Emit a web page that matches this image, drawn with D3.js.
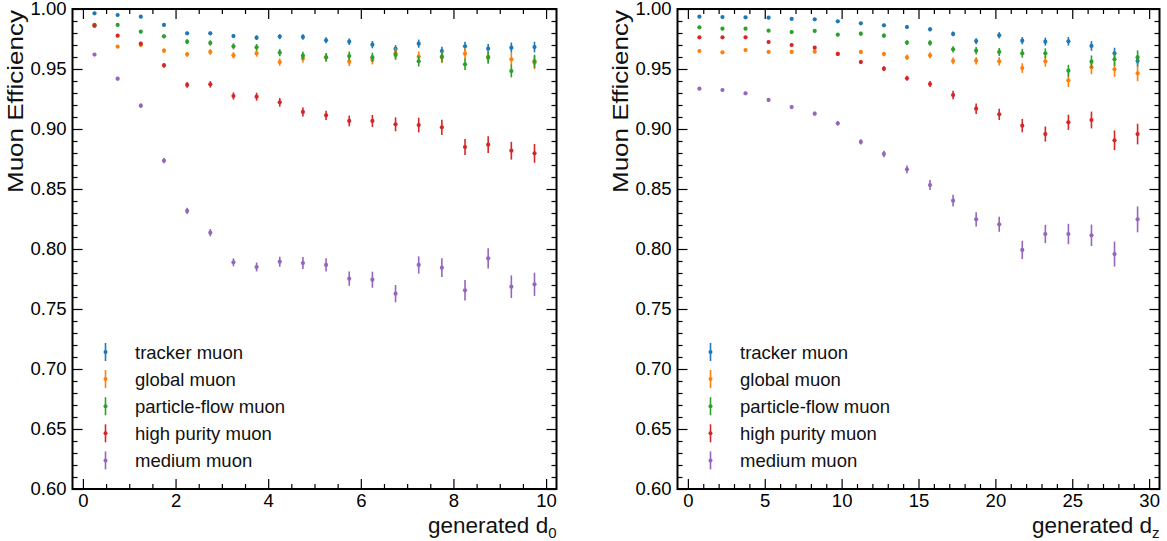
<!DOCTYPE html>
<html><head><meta charset="utf-8">
<script src="https://cdn.jsdelivr.net/npm/d3@7/dist/d3.min.js"></script>
<style>body{margin:0;background:#fff}svg{display:block;font-family:"Liberation Sans",Arial,sans-serif}</style>
</head><body><svg id="c" width="1167" height="541"></svg>
<script>
// ---------- data ----------
const seriesNames = ["tracker muon","global muon","particle-flow muon","high purity muon","medium muon"];
const seriesColors = ["#1f77b4","#ff7f0e","#2ca02c","#d62728","#9467bd"];

const d0Centers = [0.25,0.75,1.25,1.75,2.25,2.75,3.25,3.75,4.25,4.75,5.25,5.75,6.25,6.75,7.25,7.75,8.25,8.75,9.25,9.75];
const d0Tracker = [0.9964,0.995,0.9936,0.9867,0.9797,0.9797,0.9775,0.9761,0.977,0.9767,0.9739,0.9728,0.9703,0.9667,0.9711,0.965,0.9689,0.9669,0.9678,0.9683];
const d0Global  = [0.986,0.9686,0.970,0.9653,0.9622,0.9642,0.9614,0.9631,0.9558,0.9588,0.9597,0.9561,0.9578,0.9631,0.9603,0.9597,0.9628,0.9603,0.9581,0.9553];
const d0PF      = [0.9867,0.9867,0.9811,0.9772,0.9728,0.9717,0.9689,0.9681,0.9636,0.9611,0.9597,0.9608,0.9597,0.9617,0.9564,0.9603,0.9539,0.9594,0.9483,0.9564];
const d0HP      = [0.9861,0.9778,0.9711,0.9531,0.9367,0.9372,0.9275,0.9269,0.9222,0.9142,0.9114,0.9067,0.9067,0.9039,0.9033,0.9014,0.885,0.8869,0.8819,0.8797];
const d0Medium  = [0.962,0.9419,0.9194,0.8736,0.8317,0.8136,0.7889,0.785,0.7894,0.7883,0.7867,0.7753,0.7744,0.7628,0.7867,0.7844,0.7656,0.7922,0.7686,0.7706];
const d0TrackerErr = [0.0005,0.0007,0.0009,0.0011,0.0013,0.0015,0.0017,0.0019,0.0021,0.0023,0.0025,0.0027,0.003,0.0032,0.0034,0.0036,0.0038,0.004,0.0042,0.0044];
const d0GlobalErr  = [0.0008,0.0011,0.0014,0.0017,0.002,0.0023,0.0026,0.0028,0.003,0.0033,0.0035,0.0037,0.004,0.0042,0.0044,0.0046,0.0048,0.005,0.0052,0.0055];
const d0PFErr      = [0.0008,0.001,0.0013,0.0016,0.0019,0.0022,0.0025,0.0027,0.003,0.0032,0.0034,0.0037,0.0039,0.0041,0.0043,0.0046,0.0048,0.005,0.0053,0.0055];
const d0HPErr      = [0.001,0.0013,0.0016,0.002,0.0024,0.0027,0.003,0.0033,0.0036,0.0038,0.0039,0.0045,0.005,0.0058,0.0061,0.0063,0.0066,0.007,0.0074,0.0078];
const d0MediumErr  = [0.0012,0.0015,0.0018,0.0022,0.0026,0.003,0.0033,0.0037,0.0042,0.005,0.0055,0.006,0.0067,0.0072,0.0072,0.0078,0.0085,0.0085,0.0094,0.0097];

const dzCenters = [0.75,2.25,3.75,5.25,6.75,8.25,9.75,11.25,12.75,14.25,15.75,17.25,18.75,20.25,21.75,23.25,24.75,26.25,27.75,29.25];
const dzTracker = [0.9936,0.9933,0.9931,0.9928,0.9917,0.9914,0.9897,0.9881,0.9864,0.985,0.9831,0.9792,0.9733,0.9781,0.9736,0.9728,0.9731,0.9692,0.9631,0.9567];
const dzGlobal  = [0.965,0.9639,0.9658,0.9642,0.9642,0.9644,0.9628,0.9642,0.9625,0.9597,0.9614,0.9567,0.9569,0.9564,0.9508,0.9564,0.9406,0.9514,0.9497,0.9464];
const dzPF      = [0.9847,0.9836,0.9836,0.9819,0.9808,0.9817,0.9786,0.9794,0.9778,0.972,0.9717,0.9664,0.9653,0.9642,0.9631,0.9631,0.9486,0.9561,0.9581,0.9597];
const dzHP      = [0.9764,0.9764,0.9764,0.9725,0.970,0.9678,0.9625,0.9558,0.9503,0.9423,0.9375,0.9283,0.9169,0.9122,0.9028,0.8958,0.9056,0.9075,0.8906,0.8958];
const dzMedium  = [0.9336,0.9325,0.9297,0.9242,0.9183,0.9128,0.9047,0.8892,0.8792,0.8664,0.8533,0.8403,0.8247,0.8206,0.7992,0.8125,0.8125,0.8114,0.7958,0.8247];
const dzTrackerErr = [0.0006,0.0006,0.0007,0.0007,0.0008,0.0009,0.001,0.0011,0.0013,0.0015,0.0017,0.002,0.0024,0.0026,0.003,0.0033,0.0036,0.004,0.0046,0.005];
const dzGlobalErr  = [0.0009,0.0009,0.001,0.0011,0.0012,0.0013,0.0015,0.0017,0.0019,0.0022,0.0025,0.0028,0.0032,0.0035,0.004,0.0044,0.0056,0.0058,0.0062,0.0065];
const dzPFErr      = [0.0008,0.0008,0.0009,0.001,0.0011,0.0012,0.0014,0.0016,0.0018,0.002,0.0023,0.0026,0.003,0.0033,0.0037,0.0041,0.0049,0.0052,0.0055,0.0058];
const dzHPErr      = [0.0009,0.001,0.001,0.0011,0.0012,0.0013,0.0015,0.0017,0.0019,0.002,0.0026,0.0036,0.0044,0.0047,0.0056,0.0063,0.0063,0.007,0.0082,0.0086];
const dzMediumErr  = [0.0012,0.0012,0.0013,0.0014,0.0015,0.0017,0.0019,0.0022,0.0027,0.0032,0.0042,0.0049,0.006,0.0063,0.0076,0.0076,0.0085,0.009,0.0104,0.0108];

const d0MajorTicks = [0,2,4,6,8,10];
const dzMajorTicks = [0,5,10,15,20,25,30];
const yMajorTicks = [0.60,0.65,0.70,0.75,0.80,0.85,0.90,0.95,1.00];

// ---------- drawing ----------
const svg = d3.select("#c");
const plotTop = 9, plotBottom = 489;
const y = d3.scaleLinear().domain([0.6,1.0]).range([plotBottom, plotTop]);

function panel(opts){
  const {left,right,xdomain,centers,vals,errs,major,minorStep,sub} = opts;
  const x = d3.scaleLinear().domain(xdomain).range([left,right]);
  const g = svg.append("g");
  const minorX = d3.range(Math.ceil(xdomain[0]/minorStep)*minorStep, xdomain[1]+1e-9, minorStep).map(v=>+v.toFixed(4)).filter(v=>!major.some(m=>Math.abs(m-v)<1e-6));
  const minorY = d3.range(0.6,1.0001,0.01).map(v=>+v.toFixed(3)).filter(v=>!yMajorTicks.some(m=>Math.abs(m-v)<1e-6));
  const tickStyle = s => { s.select(".domain").remove(); s.selectAll("line").attr("stroke","#000").attr("stroke-width",1.2); s.selectAll("text").attr("font-size",18.5).attr("fill","#000").attr("font-family","Liberation Sans, Arial, sans-serif"); };
  g.append("g").attr("transform",`translate(0,${plotBottom})`).call(d3.axisBottom(x).tickValues(major).tickSize(-10).tickPadding(5).tickFormat(d3.format("d"))).call(tickStyle);
  g.append("g").attr("transform",`translate(0,${plotBottom})`).call(d3.axisBottom(x).tickValues(minorX).tickSize(-5).tickFormat("")).call(tickStyle);
  g.append("g").attr("transform",`translate(0,${plotTop})`).call(d3.axisTop(x).tickValues(major).tickSize(-10).tickFormat("")).call(tickStyle);
  g.append("g").attr("transform",`translate(0,${plotTop})`).call(d3.axisTop(x).tickValues(minorX).tickSize(-5).tickFormat("")).call(tickStyle);
  g.append("g").attr("transform",`translate(${left},0)`).call(d3.axisLeft(y).tickValues(yMajorTicks).tickSize(-10).tickPadding(6).tickFormat(d3.format(".2f"))).call(tickStyle);
  g.append("g").attr("transform",`translate(${left},0)`).call(d3.axisLeft(y).tickValues(minorY).tickSize(-5).tickFormat("")).call(tickStyle);
  g.append("g").attr("transform",`translate(${right},0)`).call(d3.axisRight(y).tickValues(yMajorTicks).tickSize(-10).tickFormat("")).call(tickStyle);
  g.append("g").attr("transform",`translate(${right},0)`).call(d3.axisRight(y).tickValues(minorY).tickSize(-5).tickFormat("")).call(tickStyle);
  g.append("rect").attr("x",left).attr("y",plotTop).attr("width",right-left).attr("height",plotBottom-plotTop).attr("fill","none").attr("stroke","#000").attr("stroke-width",2);

  vals.forEach((arr,si)=>{
    const col = seriesColors[si];
    const sg = g.append("g");
    const pts = arr.map((v,i)=>({x:centers[i],v,e:errs[si][i]}));
    sg.selectAll("line").data(pts).join("line")
      .attr("x1",d=>x(d.x)).attr("x2",d=>x(d.x))
      .attr("y1",d=>y(d.v-d.e)).attr("y2",d=>y(d.v+d.e))
      .attr("stroke",col).attr("stroke-width",1.6);
    sg.selectAll("circle").data(pts).join("circle")
      .attr("cx",d=>x(d.x)).attr("cy",d=>y(d.v)).attr("r",2.1).attr("fill",col);
  });

  const lg = g.append("g");
  seriesNames.forEach((n,i)=>{
    const ly = 352 + 27.1*i, lx = left+33;
    lg.append("line").attr("x1",lx).attr("x2",lx).attr("y1",ly-9).attr("y2",ly+9).attr("stroke",seriesColors[i]).attr("stroke-width",1.6);
    lg.append("circle").attr("cx",lx).attr("cy",ly).attr("r",2).attr("fill",seriesColors[i]);
    lg.append("text").attr("x",left+62.5).attr("y",ly+6.5).attr("font-size",18.5).attr("fill","#111").text(n);
  });

  const xl = g.append("text").attr("x",right).attr("y",533).attr("text-anchor","end").attr("font-size",22.5).attr("fill","#111");
  xl.append("tspan").text("generated d");
  xl.append("tspan").attr("font-size",15).attr("dy",5).text(sub);
  g.append("text").attr("transform",`translate(${left-49.5},${plotTop+1}) rotate(-90)`).attr("text-anchor","end")
    .attr("font-size",22).attr("textLength",183).attr("lengthAdjust","spacingAndGlyphs").attr("fill","#111").text("Muon Efficiency");
}

panel({left:72.5,right:556.5,xdomain:[-0.225,10.225],centers:d0Centers,
  vals:[d0Tracker,d0Global,d0PF,d0HP,d0Medium],
  errs:[d0TrackerErr,d0GlobalErr,d0PFErr,d0HPErr,d0MediumErr],
  major:d0MajorTicks,minorStep:0.5,sub:"0"});
panel({left:677.5,right:1159.5,xdomain:[-0.675,30.675],centers:dzCenters,
  vals:[dzTracker,dzGlobal,dzPF,dzHP,dzMedium],
  errs:[dzTrackerErr,dzGlobalErr,dzPFErr,dzHPErr,dzMediumErr],
  major:dzMajorTicks,minorStep:1,sub:"z"});
</script></body></html>
